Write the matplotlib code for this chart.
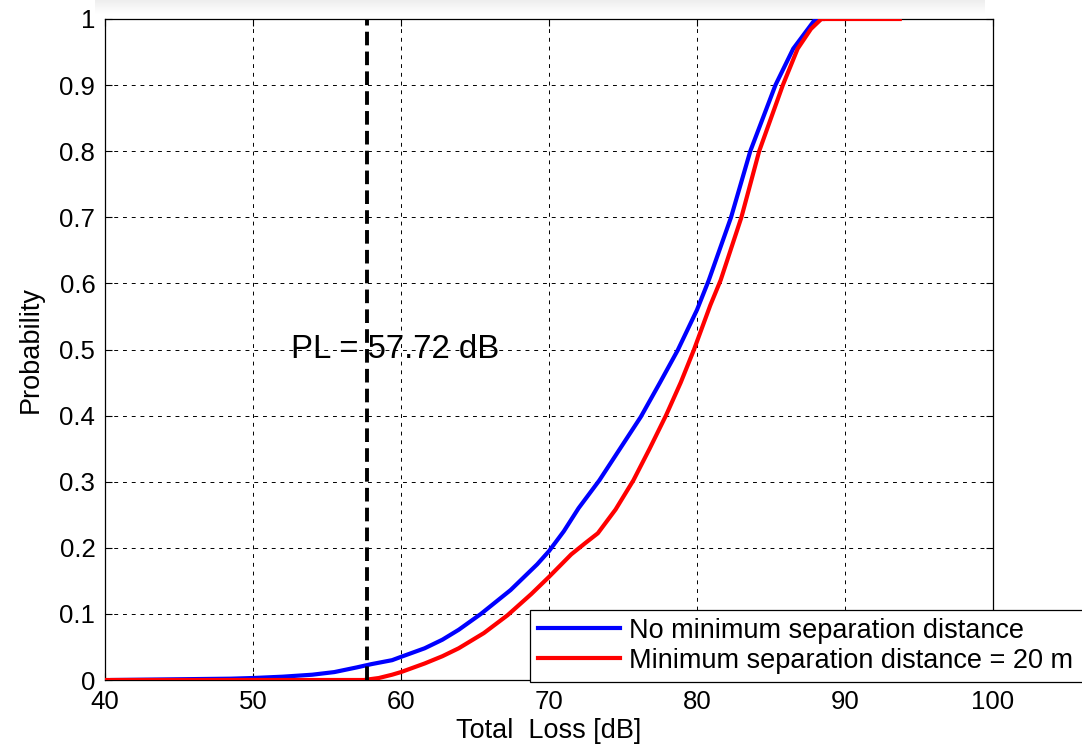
import numpy as np
import matplotlib
matplotlib.use('Agg')
import matplotlib.pyplot as plt

plt.rcParams['font.family'] = ['Liberation Sans', 'DejaVu Sans']

# CDF: no minimum separation distance
blue_x = [40.5, 48.5, 50, 52, 54, 55.5, 57, 58, 59.4, 60, 61.6, 62.8, 63.9, 65.4,
          67.4, 69.2, 70, 71, 72, 73.4, 74.8, 76.2, 77.5, 78.7, 80.0, 80.8, 82.3,
          83.6, 85.3, 86.5, 87.5, 88.0, 88.5]
blue_y = [0, 0.002, 0.003, 0.005, 0.008, 0.012, 0.019, 0.024, 0.030, 0.035, 0.048,
          0.061, 0.076, 0.10, 0.136, 0.175, 0.195, 0.225, 0.26, 0.302, 0.35, 0.398,
          0.45, 0.499, 0.56, 0.605, 0.70, 0.80, 0.90, 0.955, 0.985, 1.0, 1.0]

# CDF with minimum separation distance = 20 m
red_x = [40, 57.5, 58.5, 59.4, 60, 61.6, 62.8, 63.9, 65.6, 67.2, 68.8, 70, 71.5,
         72.5, 73.3, 74.5, 75.7, 76.8, 77.9, 78.9, 79.8, 80.9, 81.6, 83.0, 84.2,
         85.8, 86.8, 87.7, 88.4, 93.7]
red_y = [0, 0, 0.003, 0.008, 0.012, 0.025, 0.036, 0.048, 0.071, 0.098, 0.13, 0.156,
         0.19, 0.208, 0.222, 0.258, 0.302, 0.35, 0.40, 0.45, 0.50, 0.567, 0.605,
         0.70, 0.80, 0.90, 0.955, 0.985, 1.0, 1.0]

pl_value = 57.72
x_ticks = [40, 50, 60, 70, 80, 90, 100]
y_ticks = [0, 0.1, 0.2, 0.3, 0.4, 0.5, 0.6, 0.7, 0.8, 0.9, 1]
y_labels = ['0', '0.1', '0.2', '0.3', '0.4', '0.5', '0.6', '0.7', '0.8', '0.9', '1']

fig = plt.figure(figsize=(10.82, 7.53), dpi=100)
ax = fig.add_axes([105 / 1082, 73 / 753, 888 / 1082, 661 / 753])

# soft shadow strip along the top edge
sh = fig.add_axes([95 / 1082, 1 - 14 / 753, 890 / 1082, 14 / 753])
grad = np.linspace(0.93, 1.0, 32).reshape(-1, 1)
sh.imshow(grad, cmap='gray', vmin=0, vmax=1, aspect='auto', extent=[0, 1, 0, 1])
sh.axis('off')

ax.plot(blue_x, blue_y, color='#0000ff', lw=3, label='No minimum separation distance', zorder=3)
ax.plot(red_x, red_y, color='#ff0000', lw=3, label='Minimum separation distance = 20 m', zorder=4)
ax.plot([pl_value, pl_value], [0, 1], color='black', lw=2.8, dashes=(3.5, 1.6), zorder=5)

ax.text(52.6, 0.5, 'PL = %.2f dB' % pl_value, fontsize=23.7, ha='left', va='center', zorder=6)

ax.set_xlim(40, 100)
ax.set_ylim(0, 1)
ax.set_xticks(x_ticks)
ax.set_yticks(y_ticks)
ax.set_yticklabels(y_labels)
ax.tick_params(direction='in', length=5, width=0.8, top=True, right=True,
               labelsize=18.5, pad=7)
ax.grid(True, color='black', lw=0.7, dashes=(4, 5))
ax.set_axisbelow(True)
for s in ax.spines.values():
    s.set_linewidth(0.9)

ax.set_xlabel('Total  Loss [dB]', fontsize=19.5, labelpad=3)
ax.set_ylabel('Probability', fontsize=19.5, labelpad=11)

leg = ax.legend(loc='lower left', bbox_to_anchor=(0.479, -0.003, 0.66, 0.12), mode='expand',
                fontsize=19.5, handlelength=3.0, handletextpad=0.35, labelspacing=0.15,
                borderpad=0.3, borderaxespad=0, fancybox=False, framealpha=1)
leg.get_frame().set_edgecolor('black')
leg.get_frame().set_linewidth(0.9)
leg.set_zorder(10)

fig.savefig('out.png', dpi=100)
